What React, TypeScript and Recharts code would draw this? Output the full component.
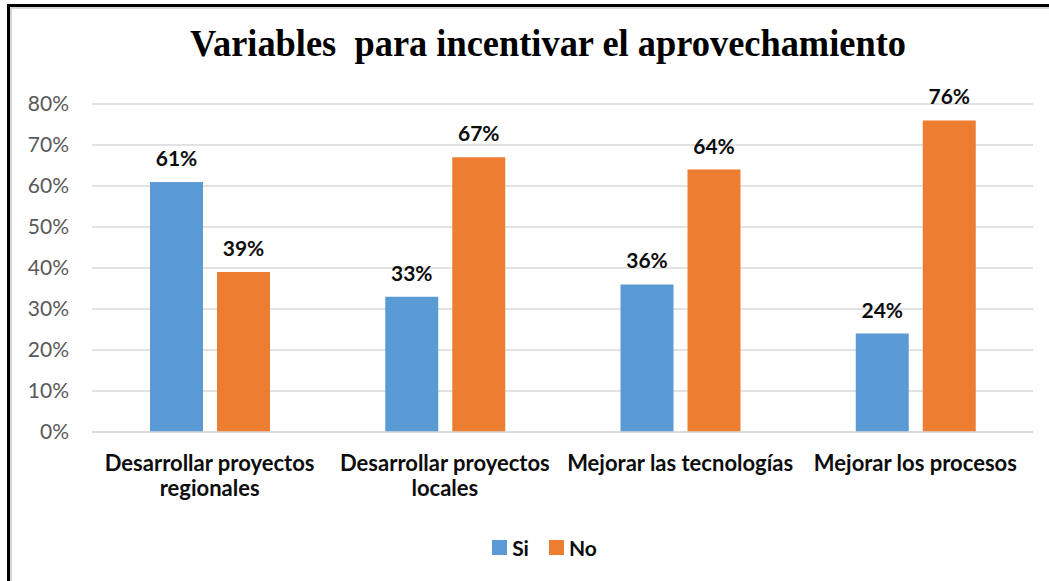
import { Bar, BarChart, CartesianGrid, LabelList, Legend, XAxis, YAxis } from "recharts"

const categories = [
  "Desarrollar proyectos regionales",
  "Desarrollar proyectos locales",
  "Mejorar las tecnologías",
  "Mejorar los procesos",
]
const si = [61, 33, 36, 24]
const no = [39, 67, 64, 76]
const yTicks = [0, 10, 20, 30, 40, 50, 60, 70, 80]

const data = categories.map((name, i) => ({ name, si: si[i], no: no[i] }))

const FONT = "Lato, 'Open Sans', sans-serif"
const BLUE = "#5B9BD5"
const ORANGE = "#ED7D31"

// splits a label into lines of at most ~24 chars
function wrap(text: string, max = 24) {
  const lines: string[] = []
  let cur = ""
  for (const w of text.split(" ")) {
    const next = cur ? cur + " " + w : w
    if (next.length > max && cur) {
      lines.push(cur)
      cur = w
    } else {
      cur = next
    }
  }
  if (cur) lines.push(cur)
  return lines
}

function CategoryTick(props: any) {
  const { x, y, payload } = props
  const lines = wrap(payload.value)
  return (
    <text x={x} y={y + 31} textAnchor="middle" fill="#0d0d0d" fontSize={22} fontWeight="bold" fontFamily={FONT}>
      {lines.map((l, i) => (
        <tspan key={i} x={x} dy={i === 0 ? 0 : 25}>
          {l}
        </tspan>
      ))}
    </text>
  )
}

function LegendContent() {
  const items = [
    { label: "Si", color: BLUE },
    { label: "No", color: ORANGE },
  ]
  return (
    <div style={{ display: "flex", justifyContent: "center", gap: 20, height: 24, alignItems: "center", paddingLeft: 56 }}>
      {items.map((it) => (
        <div key={it.label} style={{ display: "flex", alignItems: "center", gap: 5 }}>
          <span style={{ width: 15, height: 15, background: it.color, display: "inline-block" }} />
          <span style={{ fontFamily: FONT, fontWeight: "bold", fontSize: 21, color: "#0d0d0d" }}>{it.label}</span>
        </div>
      ))}
    </div>
  )
}

const labelStyle = {
  position: "top" as const,
  offset: 16,
  formatter: (v: any) => `${v}%`,
  fill: "#0d0d0d",
  fontSize: 21,
  fontWeight: "bold",
  fontFamily: FONT,
}

export default function App() {
  return (
    <div style={{ position: "absolute", left: 0, top: 0, width: 1049, height: 581, background: "#fff" }}>
      {/* frame: only top and left edges show */}
      <div style={{ position: "absolute", left: 7, top: 4, width: 1042, height: 3, background: "#000" }} />
      <div style={{ position: "absolute", left: 7, top: 7, width: 1042, height: 2, background: "#d6d6d6" }} />
      <div style={{ position: "absolute", left: 7, top: 4, width: 3, height: 577, background: "#000" }} />
      <div style={{ position: "absolute", left: 10, top: 7, width: 2, height: 574, background: "#d6d6d6" }} />

      <svg style={{ position: "absolute", left: 0, top: 0 }} width={1049} height={80}>
        <text
          x={548}
          y={56}
          textAnchor="middle"
          fontFamily="'Liberation Serif', 'Times New Roman', serif"
          fontWeight="bold"
          fontSize={37}
          textLength={716}
          lengthAdjust="spacingAndGlyphs"
          fill="#000"
          style={{ whiteSpace: "pre" }}
        >
          {"Variables\u00a0 para incentivar el aprovechamiento"}
        </text>
      </svg>

      <div style={{ position: "absolute", left: 0, top: 0 }}>
        <BarChart
          width={1049}
          height={581}
          data={data}
          margin={{ top: 104, right: 16, left: 0, bottom: 22 }}
          barSize={53}
          barGap={14}
        >
          <CartesianGrid vertical={false} stroke="#d9d9d9" strokeWidth={1.5} />
          <XAxis
            dataKey="name"
            height={103}
            interval={0}
            tickLine={false}
            axisLine={{ stroke: "#d9d9d9", strokeWidth: 1.5 }}
            tick={<CategoryTick />}
          />
          <YAxis
            domain={[0, 80]}
            ticks={yTicks}
            width={92}
            axisLine={false}
            tickLine={false}
            tickMargin={17}
            tickFormatter={(v) => `${v}%`}
            tick={{ fill: "#595959", fontSize: 21, fontFamily: FONT }}
          />
          <Legend verticalAlign="bottom" height={24} content={<LegendContent />} />
          <Bar dataKey="si" name="Si" fill={BLUE} isAnimationActive={false}>
            <LabelList dataKey="si" {...labelStyle} />
          </Bar>
          <Bar dataKey="no" name="No" fill={ORANGE} isAnimationActive={false}>
            <LabelList dataKey="no" {...labelStyle} />
          </Bar>
        </BarChart>
      </div>
    </div>
  )
}
